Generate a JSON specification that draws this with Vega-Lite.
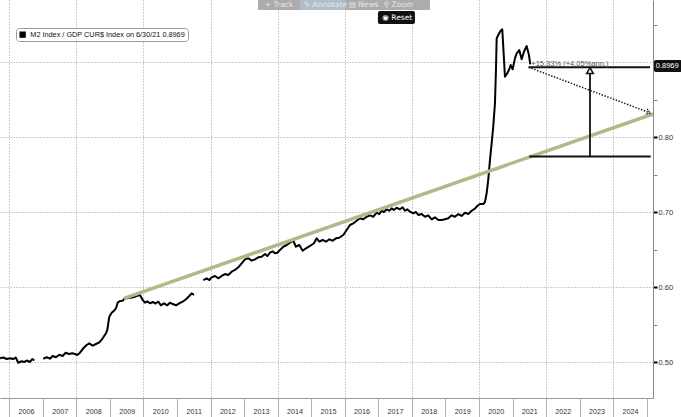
{
  "$schema": "https://vega.github.io/schema/vega-lite/v6.json",
  "autosize": {"type": "none"},
  "padding": {"left": 0, "top": 0, "right": 28, "bottom": 19},
  "width": 653,
  "height": 398,
  "background": "white",
  "config": {
    "view": {"stroke": null},
    "font": "Liberation Sans"
  },
  "datasets": {
    "m2": [
      {"t": 2005.723, "v": 0.505, "s": 1}, {"t": 2005.821, "v": 0.506, "s": 1}, {"t": 2005.923, "v": 0.504, "s": 1},
      {"t": 2006.021, "v": 0.505, "s": 1}, {"t": 2006.110, "v": 0.504, "s": 1}, {"t": 2006.191, "v": 0.506, "s": 1},
      {"t": 2006.268, "v": 0.499, "s": 1}, {"t": 2006.370, "v": 0.501, "s": 1}, {"t": 2006.438, "v": 0.500, "s": 1},
      {"t": 2006.519, "v": 0.502, "s": 1}, {"t": 2006.617, "v": 0.500, "s": 1}, {"t": 2006.686, "v": 0.504, "s": 1},
      {"t": 2006.745, "v": 0.502, "s": 1},
      {"t": 2007.013, "v": 0.5044, "s": 2}, {"t": 2007.115, "v": 0.5063, "s": 2}, {"t": 2007.213, "v": 0.5044, "s": 2},
      {"t": 2007.294, "v": 0.508, "s": 2}, {"t": 2007.392, "v": 0.5063, "s": 2}, {"t": 2007.490, "v": 0.5097, "s": 2},
      {"t": 2007.592, "v": 0.508, "s": 2}, {"t": 2007.681, "v": 0.5124, "s": 2}, {"t": 2007.779, "v": 0.5107, "s": 2},
      {"t": 2007.878, "v": 0.5116, "s": 2}, {"t": 2007.958, "v": 0.5107, "s": 2}, {"t": 2008.027, "v": 0.5093, "s": 2},
      {"t": 2008.107, "v": 0.5124, "s": 2}, {"t": 2008.206, "v": 0.5183, "s": 2}, {"t": 2008.307, "v": 0.5227, "s": 2},
      {"t": 2008.385, "v": 0.5249, "s": 2}, {"t": 2008.486, "v": 0.5217, "s": 2}, {"t": 2008.584, "v": 0.524, "s": 2},
      {"t": 2008.683, "v": 0.5263, "s": 2}, {"t": 2008.784, "v": 0.5316, "s": 2}, {"t": 2008.882, "v": 0.5383, "s": 2},
      {"t": 2008.921, "v": 0.5427, "s": 2}, {"t": 2008.981, "v": 0.5604, "s": 2}, {"t": 2009.052, "v": 0.5657, "s": 2},
      {"t": 2009.121, "v": 0.5684, "s": 2}, {"t": 2009.180, "v": 0.5716, "s": 2}, {"t": 2009.231, "v": 0.5791, "s": 2},
      {"t": 2009.300, "v": 0.5813, "s": 2}, {"t": 2009.380, "v": 0.5817, "s": 2}, {"t": 2009.419, "v": 0.584, "s": 2},
      {"t": 2009.538, "v": 0.5853, "s": 2}, {"t": 2009.657, "v": 0.586, "s": 2}, {"t": 2009.747, "v": 0.5871, "s": 2},
      {"t": 2009.815, "v": 0.5884, "s": 2}, {"t": 2009.896, "v": 0.5893, "s": 2}, {"t": 2009.976, "v": 0.5827, "s": 2},
      {"t": 2010.044, "v": 0.5791, "s": 2}, {"t": 2010.113, "v": 0.5809, "s": 2}, {"t": 2010.193, "v": 0.5783, "s": 2},
      {"t": 2010.274, "v": 0.58, "s": 2}, {"t": 2010.358, "v": 0.578, "s": 2}, {"t": 2010.441, "v": 0.5804, "s": 2},
      {"t": 2010.522, "v": 0.5756, "s": 2}, {"t": 2010.611, "v": 0.5783, "s": 2}, {"t": 2010.709, "v": 0.5756, "s": 2},
      {"t": 2010.790, "v": 0.5791, "s": 2}, {"t": 2010.870, "v": 0.5773, "s": 2}, {"t": 2010.969, "v": 0.5756, "s": 2},
      {"t": 2011.067, "v": 0.5783, "s": 2}, {"t": 2011.168, "v": 0.5804, "s": 2}, {"t": 2011.267, "v": 0.5836, "s": 2},
      {"t": 2011.365, "v": 0.588, "s": 2}, {"t": 2011.437, "v": 0.5916, "s": 2}, {"t": 2011.505, "v": 0.5893, "s": 2},
      {"t": 2011.782, "v": 0.6093, "s": 3}, {"t": 2011.884, "v": 0.6116, "s": 3}, {"t": 2011.961, "v": 0.6093, "s": 3},
      {"t": 2012.033, "v": 0.6129, "s": 3}, {"t": 2012.131, "v": 0.6147, "s": 3}, {"t": 2012.229, "v": 0.6116, "s": 3},
      {"t": 2012.331, "v": 0.6147, "s": 3}, {"t": 2012.429, "v": 0.6173, "s": 3}, {"t": 2012.528, "v": 0.616, "s": 3},
      {"t": 2012.629, "v": 0.6204, "s": 3}, {"t": 2012.728, "v": 0.6227, "s": 3}, {"t": 2012.826, "v": 0.6263, "s": 3},
      {"t": 2012.927, "v": 0.6316, "s": 3}, {"t": 2013.026, "v": 0.6369, "s": 3}, {"t": 2013.124, "v": 0.6383, "s": 3},
      {"t": 2013.225, "v": 0.6351, "s": 3}, {"t": 2013.324, "v": 0.6369, "s": 3}, {"t": 2013.422, "v": 0.6396, "s": 3},
      {"t": 2013.523, "v": 0.6404, "s": 3}, {"t": 2013.622, "v": 0.644, "s": 3}, {"t": 2013.690, "v": 0.6413, "s": 3},
      {"t": 2013.771, "v": 0.6457, "s": 3}, {"t": 2013.851, "v": 0.6476, "s": 3}, {"t": 2013.919, "v": 0.6449, "s": 3},
      {"t": 2013.988, "v": 0.6457, "s": 3}, {"t": 2014.069, "v": 0.6493, "s": 3}, {"t": 2014.167, "v": 0.6537, "s": 3},
      {"t": 2014.268, "v": 0.656, "s": 3}, {"t": 2014.367, "v": 0.6591, "s": 3}, {"t": 2014.465, "v": 0.6617, "s": 3},
      {"t": 2014.545, "v": 0.6537, "s": 3}, {"t": 2014.644, "v": 0.656, "s": 3}, {"t": 2014.745, "v": 0.6484, "s": 3},
      {"t": 2014.843, "v": 0.6516, "s": 3}, {"t": 2014.962, "v": 0.6547, "s": 3}, {"t": 2015.082, "v": 0.6583, "s": 3},
      {"t": 2015.162, "v": 0.6649, "s": 3}, {"t": 2015.240, "v": 0.6604, "s": 3}, {"t": 2015.341, "v": 0.6627, "s": 3},
      {"t": 2015.440, "v": 0.6604, "s": 3}, {"t": 2015.538, "v": 0.6636, "s": 3}, {"t": 2015.639, "v": 0.6617, "s": 3},
      {"t": 2015.738, "v": 0.6649, "s": 3}, {"t": 2015.836, "v": 0.6657, "s": 3}, {"t": 2015.955, "v": 0.6693, "s": 3},
      {"t": 2016.057, "v": 0.676, "s": 3}, {"t": 2016.155, "v": 0.6827, "s": 3}, {"t": 2016.253, "v": 0.6849, "s": 3},
      {"t": 2016.355, "v": 0.6884, "s": 3}, {"t": 2016.453, "v": 0.6916, "s": 3}, {"t": 2016.551, "v": 0.6903, "s": 3},
      {"t": 2016.653, "v": 0.6937, "s": 3}, {"t": 2016.751, "v": 0.6956, "s": 3}, {"t": 2016.849, "v": 0.6937, "s": 3},
      {"t": 2016.951, "v": 0.6991, "s": 3}, {"t": 2017.028, "v": 0.6973, "s": 3}, {"t": 2017.100, "v": 0.7017, "s": 3},
      {"t": 2017.168, "v": 0.70, "s": 3}, {"t": 2017.249, "v": 0.7036, "s": 3}, {"t": 2017.326, "v": 0.7017, "s": 3},
      {"t": 2017.398, "v": 0.7049, "s": 3}, {"t": 2017.466, "v": 0.7027, "s": 3}, {"t": 2017.547, "v": 0.7057, "s": 3},
      {"t": 2017.645, "v": 0.7036, "s": 3}, {"t": 2017.726, "v": 0.7063, "s": 3}, {"t": 2017.794, "v": 0.7017, "s": 3},
      {"t": 2017.863, "v": 0.7036, "s": 3}, {"t": 2017.943, "v": 0.7004, "s": 3}, {"t": 2018.041, "v": 0.6983, "s": 3},
      {"t": 2018.122, "v": 0.70, "s": 3}, {"t": 2018.191, "v": 0.696, "s": 3}, {"t": 2018.292, "v": 0.6973, "s": 3},
      {"t": 2018.390, "v": 0.6937, "s": 3}, {"t": 2018.489, "v": 0.6956, "s": 3}, {"t": 2018.590, "v": 0.6903, "s": 3},
      {"t": 2018.689, "v": 0.6929, "s": 3}, {"t": 2018.787, "v": 0.6893, "s": 3}, {"t": 2018.888, "v": 0.6893, "s": 3},
      {"t": 2018.987, "v": 0.6903, "s": 3}, {"t": 2019.085, "v": 0.6916, "s": 3}, {"t": 2019.186, "v": 0.6956, "s": 3},
      {"t": 2019.285, "v": 0.6937, "s": 3}, {"t": 2019.383, "v": 0.6973, "s": 3}, {"t": 2019.484, "v": 0.6947, "s": 3},
      {"t": 2019.583, "v": 0.6991, "s": 3}, {"t": 2019.681, "v": 0.6973, "s": 3}, {"t": 2019.782, "v": 0.7017, "s": 3},
      {"t": 2019.880, "v": 0.7045, "s": 3}, {"t": 2019.949, "v": 0.708, "s": 3}, {"t": 2020.030, "v": 0.7107, "s": 3},
      {"t": 2020.128, "v": 0.7107, "s": 3}, {"t": 2020.179, "v": 0.7133, "s": 3}, {"t": 2020.229, "v": 0.7249, "s": 3},
      {"t": 2020.277, "v": 0.7427, "s": 3}, {"t": 2020.328, "v": 0.7693, "s": 3}, {"t": 2020.378, "v": 0.7916, "s": 3},
      {"t": 2020.426, "v": 0.8137, "s": 3}, {"t": 2020.477, "v": 0.8449, "s": 3}, {"t": 2020.507, "v": 0.8893, "s": 3},
      {"t": 2020.528, "v": 0.9316, "s": 3}, {"t": 2020.575, "v": 0.936, "s": 3}, {"t": 2020.647, "v": 0.9417, "s": 3},
      {"t": 2020.695, "v": 0.9436, "s": 3}, {"t": 2020.725, "v": 0.9204, "s": 3}, {"t": 2020.775, "v": 0.8804, "s": 3},
      {"t": 2020.844, "v": 0.8849, "s": 3}, {"t": 2020.903, "v": 0.8903, "s": 3}, {"t": 2020.945, "v": 0.896, "s": 3},
      {"t": 2021.004, "v": 0.8903, "s": 3}, {"t": 2021.073, "v": 0.9049, "s": 3}, {"t": 2021.124, "v": 0.9116, "s": 3},
      {"t": 2021.201, "v": 0.916, "s": 3}, {"t": 2021.273, "v": 0.9036, "s": 3}, {"t": 2021.341, "v": 0.9137, "s": 3},
      {"t": 2021.422, "v": 0.9213, "s": 3}, {"t": 2021.490, "v": 0.9093, "s": 3}, {"t": 2021.530, "v": 0.8969, "s": 3}
    ],
    "trend": [
      {"t": 2009.419, "v": 0.5849},
      {"t": 2025.188, "v": 0.8307}
    ],
    "solidRules": [
      {"t": 2021.48, "t2": 2025.10, "v": 0.893, "v2": 0.893},
      {"t": 2021.50, "t2": 2025.12, "v": 0.774, "v2": 0.774},
      {"t": 2023.31, "t2": 2023.31, "v": 0.774, "v2": 0.884}
    ],
    "dotted": [
      {"t": 2021.48, "t2": 2025.08, "v": 0.893, "v2": 0.8325}
    ],
    "upHead": [{"t": 2023.31, "v": 0.8885}],
    "dotHead": [{"t": 2025.10, "v": 0.832}],
    "annot": [{"t": 2021.56, "v": 0.8947, "label": "+15.33% (+4.05%ann.)"}],
    "flagBox": [{"t": 2025.216, "t2": 2026.05, "v": 0.9027, "v2": 0.8867}],
    "flagText": [{"t": 2025.27, "v": 0.8947, "label": "0.8969"}],
    "toolbarBg": [{"t": 2013.413, "t2": 2018.540, "v": 0.9827, "v2": 0.9693}],
    "toolbarHl": [{"t": 2014.673, "t2": 2016.015, "v": 0.9827, "v2": 0.9693}],
    "toolText": [
      {"t": 2013.62, "v": 0.9765, "label": "+  Track"},
      {"t": 2014.78, "v": 0.9765, "label": "✎ Annotate"},
      {"t": 2016.12, "v": 0.9765, "label": "▤ News"},
      {"t": 2017.16, "v": 0.9765, "label": "⚲ Zoom"}
    ],
    "resetBox": [{"t": 2016.989, "t2": 2018.092, "v": 0.968, "v2": 0.9507}],
    "resetText": [{"t": 2017.12, "v": 0.9593, "label": "◉ Reset"}]
  },
  "encoding": {
    "x": {
      "field": "t", "type": "quantitative",
      "scale": {"domain": [2005.723, 2025.188], "nice": false, "zero": false},
      "axis": {
        "title": null, "orient": "bottom",
        "values": [2006, 2007, 2008, 2009, 2010, 2011, 2012, 2013, 2014, 2015, 2016, 2017, 2018, 2019, 2020, 2021, 2022, 2023, 2024, 2025],
        "labelExpr": "datum.value >= 2025 ? '' : format(datum.value, 'd')",
        "labelOffset": 16.8, "labelOverlap": false, "labelFontSize": 7.2, "labelColor": "#333", "labelFont": "Liberation Sans",
        "labelPadding": -10, "labelBaseline": "top", "labelFlush": false,
        "tickSize": 19, "tickColor": "#b0b0b0", "tickWidth": 1,
        "domainColor": "#999", "domainWidth": 1,
        "grid": true, "gridColor": "#9a9a9a", "gridDash": [1, 2], "gridWidth": 1,
        "gridOpacity": {"condition": {"test": "datum.value % 2 === 0 && datum.value < 2025", "value": 1}, "value": 0}
      }
    },
    "y": {
      "field": "v", "type": "quantitative",
      "scale": {"domain": [0.452, 0.9827], "nice": false, "zero": false},
      "axis": {
        "title": null, "orient": "right",
        "values": [0.5, 0.55, 0.6, 0.65, 0.7, 0.75, 0.8, 0.85, 0.9, 0.95],
        "labelExpr": "abs(datum.value * 10 - round(datum.value * 10)) < 0.01 && abs(datum.value - 0.9) > 0.001 ? format(datum.value, '.2f') : ''",
        "labelFontSize": 7.5, "labelColor": "#333", "labelPadding": 1, "labelFont": "Liberation Sans",
        "tickSize": 4,
        "tickColor": {"condition": {"test": "abs(datum.value * 10 - round(datum.value * 10)) < 0.01", "value": "#000"}, "value": "#888"},
        "tickWidth": {"condition": {"test": "abs(datum.value * 10 - round(datum.value * 10)) < 0.01", "value": 2}, "value": 1},
        "domainColor": "#888", "domainWidth": 1,
        "grid": true, "gridColor": "#9a9a9a", "gridDash": [1, 2], "gridWidth": 1,
        "gridOpacity": {"condition": {"test": "abs(datum.value * 10 - round(datum.value * 10)) < 0.01", "value": 1}, "value": 0}
      }
    }
  },
  "layer": [
    {
      "data": {"name": "toolbarBg"},
      "mark": {"type": "rect", "color": "#a3a3a3", "opacity": 0.9},
      "encoding": {"x2": {"field": "t2"}, "y2": {"field": "v2"}}
    },
    {
      "data": {"name": "toolbarHl"},
      "mark": {"type": "rect", "color": "#b1bfd1", "opacity": 0.9},
      "encoding": {"x2": {"field": "t2"}, "y2": {"field": "v2"}}
    },
    {
      "data": {"name": "toolText"},
      "mark": {"type": "text", "align": "left", "baseline": "middle", "fontSize": 7.5, "color": "#e6e6e6", "font": "DejaVu Sans"},
      "encoding": {"text": {"field": "label"}}
    },
    {
      "data": {"name": "resetBox"},
      "mark": {"type": "rect", "color": "#111", "cornerRadius": 2},
      "encoding": {"x2": {"field": "t2"}, "y2": {"field": "v2"}}
    },
    {
      "data": {"name": "resetText"},
      "mark": {"type": "text", "align": "left", "baseline": "middle", "fontSize": 7.5, "color": "white", "font": "DejaVu Sans"},
      "encoding": {"text": {"field": "label"}}
    },
    {
      "data": {"name": "m2"},
      "mark": {"type": "line", "strokeWidth": 2, "strokeJoin": "round"},
      "encoding": {
        "detail": {"field": "s", "type": "nominal"},
        "color": {
          "datum": "M2 Index / GDP CUR$ Index on 6/30/21 0.8969",
          "scale": {"range": ["black"]},
          "legend": {
            "orient": "none", "legendX": 16, "legendY": 28, "title": null,
            "symbolType": "square", "symbolSize": 40, "symbolFillColor": "black", "symbolStrokeColor": "black",
            "labelFontSize": 7.3, "labelFont": "Liberation Sans", "labelColor": "#111", "labelLimit": 400,
            "padding": 3, "strokeColor": "#9a9a9a", "fillColor": "white", "cornerRadius": 3,
            "encode": {"symbols": {"update": {"fill": {"value": "black"}, "stroke": {"value": "black"}, "strokeWidth": {"value": 0}}}}
          }
        }
      }
    },
    {
      "data": {"name": "trend"},
      "mark": {"type": "line", "strokeWidth": 3.5, "color": "#b5b68a"},
      "encoding": {}
    },
    {
      "data": {"name": "solidRules"},
      "mark": {"type": "rule", "color": "#111", "strokeWidth": 1.8},
      "encoding": {"x2": {"field": "t2"}, "y2": {"field": "v2"}}
    },
    {
      "data": {"name": "dotted"},
      "mark": {"type": "rule", "color": "#222", "strokeWidth": 1.5, "strokeDash": [1.5, 1.5]},
      "encoding": {"x2": {"field": "t2"}, "y2": {"field": "v2"}}
    },
    {
      "data": {"name": "upHead"},
      "mark": {"type": "point", "shape": "triangle-up", "size": 45, "filled": true, "fill": "white", "stroke": "#111", "strokeWidth": 1.5, "opacity": 1}
    },
    {
      "data": {"name": "dotHead"},
      "mark": {"type": "point", "shape": "M -1 -0.7 L 0 0 L -1 0.7", "size": 70, "filled": false, "stroke": "#222", "strokeWidth": 1.3, "strokeDash": [1.5, 1], "angle": 21, "opacity": 1}
    },
    {
      "data": {"name": "annot"},
      "mark": {"type": "text", "align": "left", "baseline": "alphabetic", "fontSize": 7.5, "color": "#555"},
      "encoding": {"text": {"field": "label"}}
    },
    {
      "data": {"name": "flagBox"},
      "mark": {"type": "rect", "color": "#111", "cornerRadius": 2},
      "encoding": {"x2": {"field": "t2"}, "y2": {"field": "v2"}}
    },
    {
      "data": {"name": "flagText"},
      "mark": {"type": "text", "align": "left", "baseline": "middle", "fontSize": 7.5, "color": "white"},
      "encoding": {"text": {"field": "label"}}
    }
  ]
}
